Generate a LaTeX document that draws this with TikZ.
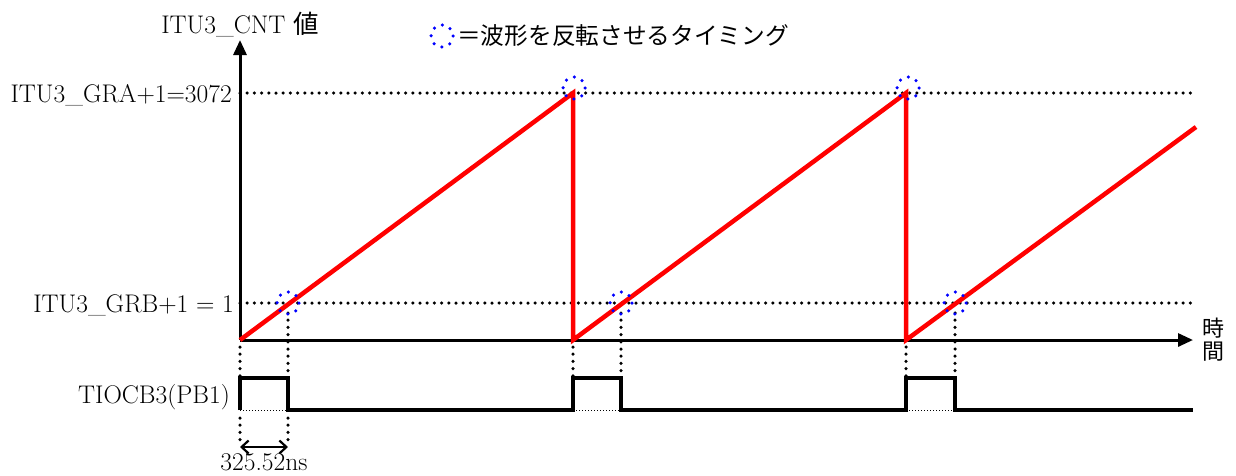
\documentclass[tikz,border=0pt]{standalone}
\usepackage{fontspec}
\newfontfamily\jp{Noto Sans CJK JP}
\usetikzlibrary{arrows.meta}
\begin{document}
\begin{tikzpicture}[x=1pt,y=-1pt,
  lbl/.style={font=\fontsize{25.5}{28}\selectfont, inner sep=0pt},
  ax/.style={line width=3pt,-{Triangle[length=15pt,width=13pt]}},
  ramp/.style={red,line width=4.5pt},
  pulse/.style={line width=4pt,line join=miter},
  dotl/.style={line width=3.5pt,line cap=round,dash pattern=on 0pt off 7.2pt},
  thindot/.style={line width=1pt,dash pattern=on 1pt off 2pt},
  flipmark/.style={blue,line width=3.5pt,line cap=round,dash pattern=on 0pt off 8.64pt},
  dim/.style={line width=2.2pt,{Straight Barb[length=7pt,width=13pt]}-{Straight Barb[length=7pt,width=13pt]}}]
\useasboundingbox (0,0) rectangle (1236,475);
% coordinates
\coordinate (O) at (240,340);
\coordinate (Ytop) at (240,40);
\coordinate (Xend) at (1193,340);
\coordinate (Aa) at (240,93); \coordinate (Ab) at (1193,93);
\coordinate (Ba) at (240,303); \coordinate (Bb) at (1193,303);
\coordinate (P1) at (573,93); \coordinate (Q1) at (573,340);
\coordinate (P2) at (906,93); \coordinate (Q2) at (906,340);
\coordinate (R3) at (1196,127);
\coordinate (G1) at (288,303); \coordinate (G2) at (621,303); \coordinate (G3) at (955,303);
% dotted level lines
\draw[dotl] (Aa) -- (Ab);
\draw[dotl] (Ba) -- (Bb);
% axes
\draw[ax] (O) -- (Ytop);
\draw[ax] (O) -- (Xend);
% ramps
\draw[ramp,line join=miter] (O) -- (P1) -- (Q1) -- (P2) -- (Q2) -- (R3);
% pulse
\draw[pulse] (240,410) -- (240,378) -- (288,378) -- (288,410) -- (573,410) -- (573,378) -- (621,378) -- (621,410) -- (906,410) -- (906,378) -- (955,378) -- (955,410) -- (1193,410);
\draw[thindot] (240,410) -- (288,410);
\draw[thindot] (573,410) -- (621,410);
\draw[thindot] (906,410) -- (955,410);
% vertical guides
\draw[dotl] (240,347) -- (240,376);
\draw[dotl] (288,313) -- (288,376);
\draw[dotl] (573,347) -- (573,376);
\draw[dotl] (621,313) -- (621,376);
\draw[dotl] (906,347) -- (906,376);
\draw[dotl] (955,313) -- (955,376);
\draw[dotl] (240,418) -- (240,446);
\draw[dotl] (288,418) -- (288,446);
% dimension
\coordinate (D1) at (240,447); \coordinate (D2) at (288,447);
\draw[dim] (D1) -- (D2);
\node[lbl,anchor=north] (dlab) at (264,453) {325.52ns};
% markers
\draw[flipmark] (G1) circle[radius=11];
\draw[flipmark] (G2) circle[radius=11];
\draw[flipmark] (G3) circle[radius=11];
\draw[flipmark] (574,88) circle[radius=11];
\draw[flipmark] (908,88) circle[radius=11];
% labels
\node[lbl] (ylab) at (240,24) {ITU3\_CNT {\jp 値}};
\node[lbl,anchor=east] (gra) at (232,95) {ITU3\_GRA+1=3072};
\node[lbl,anchor=east] (grb) at (234,305) {ITU3\_GRB+1 = 1};
\node[lbl,anchor=east] (tio) at (230,397) {TIOCB3(PB1)};
\node[lbl,align=center,font=\jp\fontsize{22}{23}\selectfont] (time) at (1213,340) {時\\間};
\draw[flipmark] (442,36) circle[radius=11];
\node[lbl,anchor=west,font=\jp\fontsize{23.7}{26}\selectfont] (leg) at (457,36) {＝波形を反転させるタイミング};
\end{tikzpicture}
\end{document}
